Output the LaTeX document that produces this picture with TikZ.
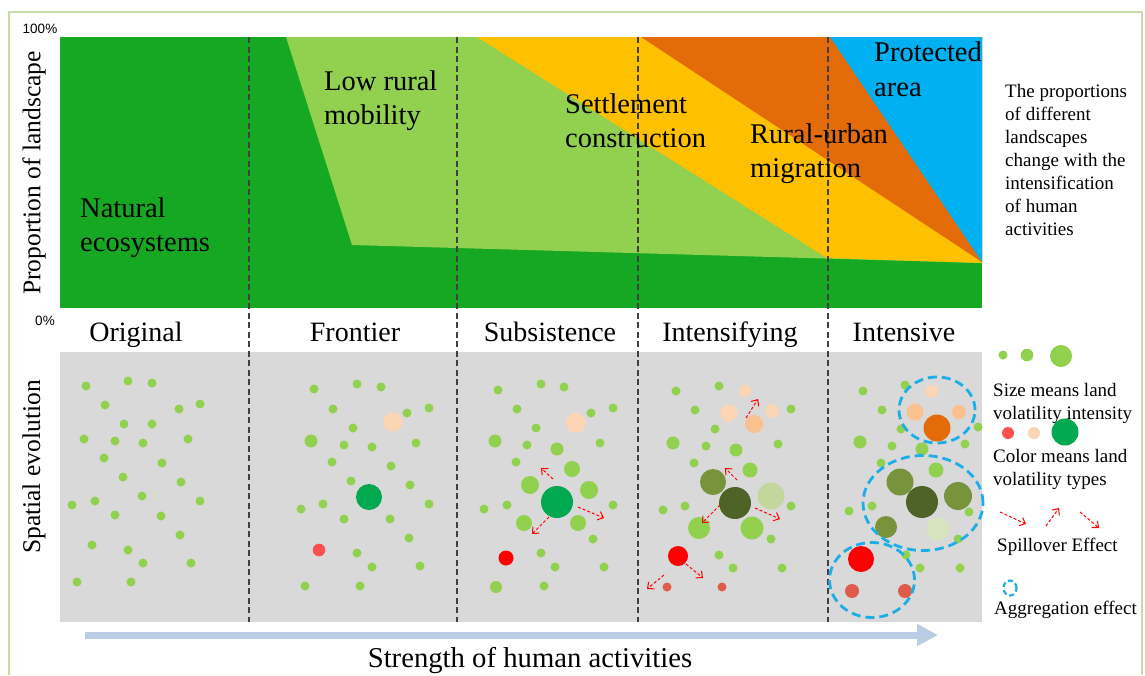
\documentclass[tikz,border=0pt]{standalone}
\usepackage{fontspec}
\setmainfont{Liberation Serif}
\newfontfamily\axsans{Liberation Sans}
\usetikzlibrary{arrows.meta}
\definecolor{natgreen}{RGB}{22,168,35}
\definecolor{lgreen}{RGB}{146,208,80}
\definecolor{yel}{RGB}{255,192,0}
\definecolor{orng}{RGB}{227,108,9}
\definecolor{skyb}{RGB}{0,176,240}
\definecolor{panelgray}{RGB}{217,217,217}
\definecolor{peachA}{RGB}{252,213,180}
\definecolor{peachB}{RGB}{250,192,144}
\definecolor{dkgreen}{RGB}{0,168,80}
\definecolor{redA}{RGB}{255,80,80}
\definecolor{salmon}{RGB}{221,92,74}
\definecolor{olive}{RGB}{119,147,60}
\definecolor{dkolive}{RGB}{79,98,40}
\definecolor{paleA}{RGB}{195,214,155}
\definecolor{paleB}{RGB}{215,228,189}
\definecolor{aggblue}{RGB}{28,174,230}
\definecolor{arrblue}{RGB}{185,205,229}
\definecolor{framegreen}{RGB}{200,218,165}
\begin{document}
\begin{tikzpicture}[x=1pt,y=-1pt,
  bigtxt/.style={font=\fontsize{28.5}{34.5}\selectfont, inner sep=0pt, align=left, anchor=north west},
  stagetxt/.style={font=\fontsize{28}{34}\selectfont, inner sep=0pt, anchor=base},
  axistxt/.style={font=\fontsize{25.5}{30}\selectfont, inner sep=0pt, rotate=90},
  notetxt/.style={font=\fontsize{19}{23}\selectfont, inner sep=0pt, align=left, anchor=north west},
  pcttxt/.style={font=\axsans\fontsize{13.5}{15}\selectfont, inner sep=0pt},
  sepline/.style={draw=black!75, line width=1.1pt, dash pattern=on 6pt off 3.5pt},
  spill/.style={draw=red, line width=1pt, dash pattern=on 3pt off 2pt, -{Straight Barb[length=5pt,width=9pt]}},
  agg/.style={draw=aggblue, line width=2.8pt, dash pattern=on 9pt off 5pt}]
\useasboundingbox (0,0) rectangle (1145,675);
\fill[white] (0,0) rectangle (1145,675);
% frame
\draw[framegreen, line width=2.5pt] (9,675) -- (9,12) -- (1142,12) -- (1142,675);
% top chart
\fill[natgreen] (60,37) rectangle (982,308);
\fill[lgreen] (286,37) -- (982,37) -- (982,263) -- (352,245) -- cycle;
\fill[yel] (477,37) -- (982,37) -- (982,263) -- (827,258) -- cycle;
\fill[orng] (641,37) -- (982,37) -- (982,262) -- cycle;
\fill[skyb] (830,37) -- (982,37) -- (982,262) -- cycle;
% bottom panel
\fill[panelgray] (60,352) rectangle (982,622);
% separators
\foreach \sx in {249,457,638,828} \draw[sepline] (\sx,37) -- (\sx,622);
% ---- dots ----
% Original
\foreach \px/\py in {86/386,128/381,152/383,105/405,179/409,200/404,124/424,152/424,84/439,115/441,143/443,188/439,104/458,162/463,123/477,181/482,72/505,95/501,142/496,200/501,115/515,161/516,180/535,92/545,128/550,143/563,191/563,77/582,131/582}
  \fill[lgreen] (\px,\py) circle[radius=4.5pt];
% Frontier
\foreach \px/\py in {314/389,357/384,381/387,333/409,407/413,429/408,353/428,344/445,372/447,416/443,332/462,391/466,351/481,410/485,301/509,323/504,429/504,344/519,390/519,409/538,357/553,372/567,420/566,305/586,360/586}
  \fill[lgreen] (\px,\py) circle[radius=4.5pt];
\fill[lgreen] (311,441) circle[radius=6.5pt];
\fill[peachA] (393,422) circle[radius=9.5pt];
\fill[dkgreen] (369,497) circle[radius=13pt];
\fill[redA] (319,550) circle[radius=6.3pt];
% Subsistence
\foreach \px/\py in {498/390,541/384,564/387,517/409,591/413,613/408,536/428,527/445,600/443,516/462,484/509,507/505,613/505,593/539,541/553,555/567,604/567,544/586}
  \fill[lgreen] (\px,\py) circle[radius=4.5pt];
\foreach \px/\py/\pr in {495/441/6.5,557/449/6.5,572/469/8,530/485/9,589/490/9,524/523/8,578/523/8,496/587/6}
  \fill[lgreen] (\px,\py) circle[radius=\pr pt];
\fill[peachA] (576,423) circle[radius=10pt];
\fill[dkgreen] (557,502) circle[radius=16pt];
\fill[red] (506,558) circle[radius=7.5pt];
\coordinate (s1a) at (553,479); \coordinate (s1b) at (541,468);
\coordinate (s2a) at (578,507); \coordinate (s2b) at (604,518);
\coordinate (s3a) at (549,517); \coordinate (s3b) at (532,534);
\draw[spill] (s1a) -- (s1b);
\draw[spill] (s2a) -- (s2b);
\draw[spill] (s3a) -- (s3b);
% Intensifying
\foreach \px/\py in {676/391,719/386,791/409,695/410,715/429,706/446,778/444,694/463,663/510,685/506,791/506,771/539,719/555,733/568,782/568}
  \fill[lgreen] (\px,\py) circle[radius=4.5pt];
\foreach \px/\py/\pr in {673/443/6.5,736/450/6.5,750/470/7.5,699/528/11,752/528/11.5}
  \fill[lgreen] (\px,\py) circle[radius=\pr pt];
\fill[peachA] (745,391) circle[radius=6pt];
\fill[peachA] (729,413) circle[radius=8.5pt];
\fill[peachA] (772,411) circle[radius=7pt];
\fill[peachB] (754,424) circle[radius=9pt];
\fill[olive] (713,482) circle[radius=13pt];
\fill[paleA] (771,496) circle[radius=13.5pt];
\fill[dkolive] (735,503) circle[radius=16pt];
\fill[red] (678,556) circle[radius=10pt];
\fill[salmon] (667,587) circle[radius=4.5pt];
\fill[salmon] (722,587) circle[radius=4.5pt];
\coordinate (i1a) at (746,418); \coordinate (i1b) at (758,399);
\coordinate (i2a) at (737,480); \coordinate (i2b) at (725,468);
\coordinate (i3a) at (720,505); \coordinate (i3b) at (702,523);
\coordinate (i4a) at (755,508); \coordinate (i4b) at (780,519);
\coordinate (i5a) at (664,575); \coordinate (i5b) at (647,589);
\coordinate (i6a) at (686,564); \coordinate (i6b) at (703,578);
\foreach \sa/\sb in {i1a/i1b,i2a/i2b,i3a/i3b,i4a/i4b,i5a/i5b,i6a/i6b}
  \draw[spill] (\sa) -- (\sb);
% Intensive
\foreach \px/\py in {863/391,905/385,882/410,901/429,978/427,892/446,965/444,881/463,849/511,872/506,969/512,958/539,906/555,920/568,960/568}
  \fill[lgreen] (\px,\py) circle[radius=4.5pt];
\foreach \px/\py/\pr in {860/442/6.5,922/449/6.5,936/470/7.5}
  \fill[lgreen] (\px,\py) circle[radius=\pr pt];
\fill[peachA] (932,391) circle[radius=6.5pt];
\fill[peachB] (915,412) circle[radius=8.5pt];
\fill[peachB] (959,412) circle[radius=7pt];
\fill[orng] (937,428) circle[radius=13.5pt];
\fill[olive] (900,482) circle[radius=13.5pt];
\fill[olive] (958,496) circle[radius=14pt];
\fill[olive] (886,527) circle[radius=11pt];
\fill[dkolive] (922,502) circle[radius=16pt];
\fill[paleB] (938,529) circle[radius=11.5pt];
\fill[red] (861,559) circle[radius=13pt];
\fill[salmon] (852,591) circle[radius=7pt];
\fill[salmon] (905,591) circle[radius=7pt];
\draw[agg] (937,410) ellipse[x radius=38pt, y radius=33pt];
\draw[agg] (923,503) ellipse[x radius=60pt, y radius=47.5pt];
\draw[agg] (872,580) ellipse[x radius=42.5pt, y radius=37.5pt];
% big arrow
\coordinate (harrS) at (85,635);
\coordinate (harrE) at (938,635);
\draw[arrblue, line width=7pt, -{Triangle[length=21pt,width=21pt]}] (harrS) -- (harrE);
% ---- legend ----
\fill[lgreen] (1003,355) circle[radius=4.5pt];
\fill[lgreen] (1027,355) circle[radius=6.3pt];
\fill[lgreen] (1061,356) circle[radius=11pt];
\fill[redA] (1008,433) circle[radius=6pt];
\fill[peachA] (1034,433) circle[radius=6pt];
\fill[dkgreen] (1065,432) circle[radius=13.5pt];
\coordinate (l1a) at (1000,512); \coordinate (l1b) at (1026,524);
\coordinate (l2a) at (1046,526); \coordinate (l2b) at (1059,508);
\coordinate (l3a) at (1080,512); \coordinate (l3b) at (1099,528);
\draw[spill] (l1a) -- (l1b);
\draw[spill] (l2a) -- (l2b);
\draw[spill] (l3a) -- (l3b);
\draw[aggblue, line width=2.2pt, dash pattern=on 5pt off 3pt] (1010,588) ellipse[x radius=6.5pt, y radius=7.5pt];
% ---- texts ----
\node[pcttxt] (p100) at (40,29) {100\%};
\node[pcttxt] (p0) at (45,321) {0\%};
\node[axistxt] (yax1) at (34,173) {Proportion of landscape};
\node[axistxt] (yax2) at (34,467) {Spatial evolution};
\node[bigtxt] (tNat) at (80,197.5) {Natural\\ecosystems};
\node[bigtxt] (tLow) at (324,70.5) {Low rural\\mobility};
\node[bigtxt] (tSet) at (565,93.5) {Settlement\\construction};
\node[bigtxt] (tRur) at (750,123.5) {Rural-urban\\migration};
\node[bigtxt] (tPro) at (874,42) {Protected\\area};
\node[notetxt] (tNote) at (1005,84) {The proportions\\of different\\landscapes\\change with the\\intensification\\of human\\activities};
\node[stagetxt] (st1) at (136,341) {Original};
\node[stagetxt] (st2) at (355,341) {Frontier};
\node[stagetxt] (st3) at (550,341) {Subsistence};
\node[stagetxt] (st4) at (730,341) {Intensifying};
\node[stagetxt] (st5) at (904,341) {Intensive};
\node[font=\fontsize{28.7}{32}\selectfont, inner sep=0pt, anchor=base] (xax) at (530,667) {Strength of human activities};
\node[notetxt] (lg1) at (993,383) {Size means land\\volatility intensity};
\node[notetxt] (lg2) at (993,449.5) {Color means land\\volatility types};
\node[font=\fontsize{19}{23}\selectfont, inner sep=0pt, anchor=base west] (lg3) at (997,551) {Spillover Effect};
\node[font=\fontsize{19}{23}\selectfont, inner sep=0pt, anchor=base west] (lg4) at (994,614) {Aggregation effect};
\end{tikzpicture}
\end{document}
